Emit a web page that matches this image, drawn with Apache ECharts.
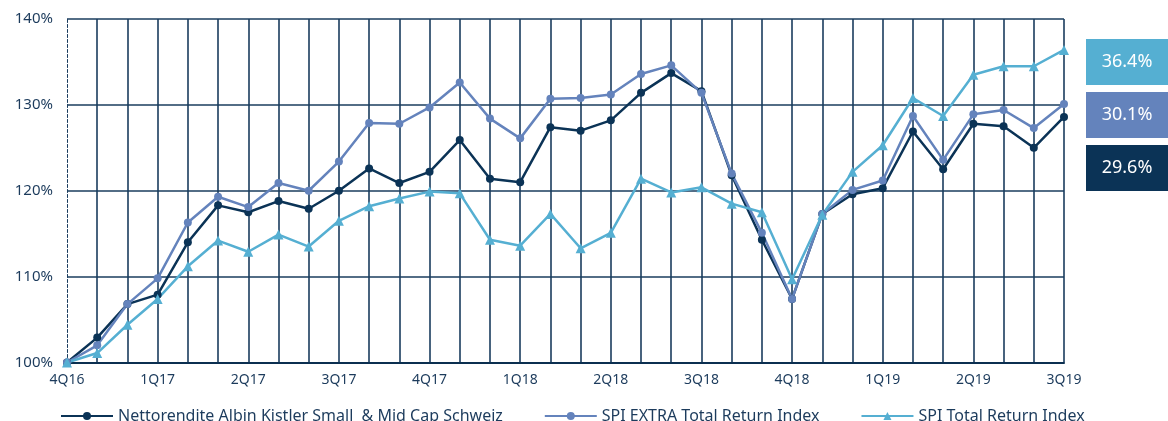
<!DOCTYPE html>
<html><head><meta charset="utf-8">
<script src="https://cdn.jsdelivr.net/npm/echarts@6/dist/echarts.min.js"></script>
<style>html,body{margin:0;padding:0;background:#fff}#c{width:1168px;height:421px}</style>
</head><body><div id="c"></div>
<script>
const categories = ['4Q16','','','1Q17','','','2Q17','','','3Q17','','','4Q17','','','1Q18','','','2Q18','','','3Q18','','','4Q18','','','1Q19','','','2Q19','','','3Q19'];
const seriesNames = ['Nettorendite Albin Kistler Small  & Mid Cap Schweiz','SPI EXTRA Total Return Index','SPI Total Return Index'];
const albin = [100,102.9,106.8,107.9,114.0,118.3,117.5,118.8,117.9,120.0,122.6,120.9,122.2,125.9,121.4,121.0,127.4,127.0,128.2,131.4,133.7,131.6,121.8,114.3,107.4,117.3,119.6,120.3,126.9,122.5,127.8,127.5,125.0,128.6];
const spiExtra = [100,102.0,106.8,109.8,116.3,119.3,118.1,120.9,120.0,123.4,127.9,127.8,129.7,132.6,128.4,126.1,130.7,130.8,131.2,133.6,134.6,131.4,122.0,115.1,107.4,117.3,120.1,121.2,128.7,123.6,128.9,129.4,127.3,130.1];
const spiTotal = [100,101.1,104.4,107.4,111.2,114.2,112.9,114.9,113.5,116.5,118.2,119.1,119.9,119.7,114.3,113.6,117.3,113.3,115.1,121.4,119.8,120.4,118.5,117.5,109.7,117.2,122.2,125.3,130.8,128.7,133.5,134.5,134.5,136.4];
const finalLabels = ['36.4%','30.1%','29.6%'];
const colors = {dark:'#0B3356', mid:'#6483BC', light:'#55AFD2', grid:'#1A3C5E', text:'#1C3B5C'};

const chart = echarts.init(document.getElementById('c'));
const font = '"Noto Sans", sans-serif';
function mk(name, data, color, symbol, size){
  return {name, type:'line', data, color, symbol, symbolSize:size, showSymbol:true,
    lineStyle:{width:2.5,color}, itemStyle:{color}, z: 3, animation:false};
}
const boxColors = [colors.light, colors.mid, colors.dark];
const boxTops = [39, 92, 145];
chart.setOption({
  animation:false,
  textStyle:{fontFamily:font},
  grid:{left:67,right:104,top:19,bottom:58.5,containLabel:false},
  xAxis:{type:'category',data:categories,boundaryGap:false,
    axisLine:{show:true,lineStyle:{color:'#0B2F50',width:2}},
    axisTick:{show:false},
    axisLabel:{interval:0,color:colors.text,fontSize:14,margin:11,fontFamily:font},
    splitLine:{show:true,interval:(i)=>i!==0,lineStyle:{color:colors.grid,width:1.6}}
  },
  yAxis:{type:'value',min:100,max:140,interval:10,
    axisLine:{show:true,lineStyle:{color:colors.grid,width:1,type:[3,2]}},
    axisTick:{show:false},
    axisLabel:{color:colors.text,fontSize:15,margin:14,formatter:v=>v+'%',fontFamily:font},
    splitLine:{show:true,lineStyle:{color:colors.grid,width:1.6}}
  },
  legend:{left:55,top:403,itemGap:41,itemWidth:52,itemHeight:10,
    textStyle:{color:colors.text,fontSize:16,fontFamily:font},
    data:seriesNames},
  series:[
    mk(seriesNames[0], albin, colors.dark, 'circle', 8),
    mk(seriesNames[1], spiExtra, colors.mid, 'circle', 8),
    mk(seriesNames[2], spiTotal, colors.light, 'triangle', 10)
  ],
  graphic: finalLabels.map((t,i)=>({
    type:'group', left:1086, top:boxTops[i],
    children:[
      {type:'rect', shape:{x:0,y:0,width:82,height:46}, style:{fill:boxColors[i]}},
      {type:'text', x:41, y:23, style:{text:t, fill:'#fff', font:'18px '+font, align:'center', verticalAlign:'middle'}}
    ]
  }))
});
</script>
</body></html>
